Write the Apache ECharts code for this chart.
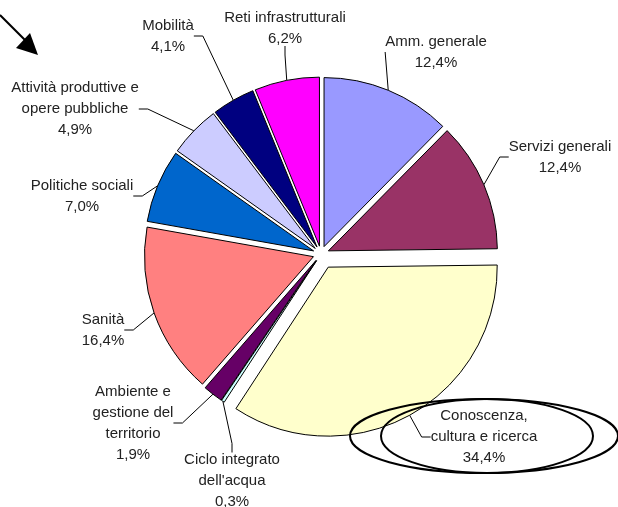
<!DOCTYPE html>
<html>
<head>
<meta charset="utf-8">
<script src="https://cdn.jsdelivr.net/npm/echarts@6/dist/echarts.min.js"></script>
<style>
  html, body { margin: 0; padding: 0; background: #fff; }
  #main { width: 618px; height: 507px; }
</style>
</head>
<body>
<div id="main"></div>
<script>
  // voci di spesa, in senso orario a partire dalle 12
  const categories = [
    'Amm. generale',
    'Servizi generali',
    'Conoscenza,\ncultura e ricerca',
    'Ciclo integrato\ndell\'acqua',
    'Ambiente e\ngestione del\nterritorio',
    'Sanità',
    'Politiche sociali',
    'Attività produttive e\nopere pubbliche',
    'Mobilità',
    'Reti infrastrutturali'
  ]
  const shares = [12.4, 12.4, 34.4, 0.3, 1.9, 16.4, 7.0, 4.9, 4.1, 6.2]
  const colors = ['#9999ff', '#993366', '#ffffcc', '#ccffff', '#660066', '#ff8080', '#0066cc', '#ccccff', '#000080', '#ff00ff']

  // dove stanno le etichette (centro del blocco di testo)
  const labelSpots = [
    [436, 52], [560, 157], [484, 437], [232, 481], [133, 423],
    [103, 330], [82, 196], [75, 109], [168, 36], [285, 28]
  ]
  // tratto finale della linea guida
  const stubs = [14, 9, 9, 9, 9, 9, 9, 9, 9, 9]

  const CX = 321
  const CY = 254
  const R = 169

  const fmtPct = v => v.toFixed(1).replace('.', ',') + '%'
  const total = shares.reduce((a, b) => a + b, 0)

  // una serie per spicchio, così ogni fetta si stacca dal centro per conto suo
  let acc = 0
  const series = shares.map((v, i) => {
    const mid = (acc + v / 2) / total * 2 * Math.PI
    acc += v
    const off = i === 2 ? 15 : 8
    return {
      type: 'pie',
      center: [CX + off * Math.sin(mid), CY - off * Math.cos(mid)],
      radius: R,
      startAngle: 90,
      clockwise: true,
      avoidLabelOverlap: false,
      silent: true,
      label: {
        position: 'outside',
        formatter: p => p.name.split('\n').concat(fmtPct(p.value)).map(s => '{t|' + s + '}').join('\n'),
        rich: {
          t: { align: 'center', fontSize: 15, lineHeight: 21, color: '#222', fontFamily: 'Liberation Sans, Arial, sans-serif' }
        }
      },
      labelLine: { length: 10, length2: stubs[i], lineStyle: { color: '#000', width: 1 } },
      labelLayout: params => {
        const s = labelSpots[params.dataIndex]
        return { x: s[0], y: s[1], align: 'center', verticalAlign: 'middle' }
      },
      data: categories.map((name, j) => ({
        name: name,
        value: shares[j],
        itemStyle: j === i
          ? { color: colors[j], borderColor: '#000', borderWidth: 1 }
          : { color: 'transparent', borderWidth: 0 },
        label: { show: j === i },
        labelLine: { show: j === i }
      }))
    }
  })

  const chart = echarts.init(document.getElementById('main'))
  chart.setOption({
    animation: false,
    graphic: [
      // freccia in alto a sinistra
      { type: 'line', shape: { x1: 0, y1: 15, x2: 27, y2: 42 }, style: { stroke: '#000', lineWidth: 2 } },
      { type: 'polygon', shape: { points: [[38, 55], [16, 48], [30, 33]] }, style: { fill: '#000' } },
      // ovali attorno a "Conoscenza"
      { type: 'ellipse', shape: { cx: 484, cy: 436, rx: 134, ry: 37 }, style: { fill: 'none', stroke: '#000', lineWidth: 2 }, z: 10 },
      { type: 'ellipse', shape: { cx: 487, cy: 436, rx: 106, ry: 37 }, style: { fill: 'none', stroke: '#000', lineWidth: 2 }, z: 10 }
    ],
    series: series
  })
</script>
</body>
</html>
